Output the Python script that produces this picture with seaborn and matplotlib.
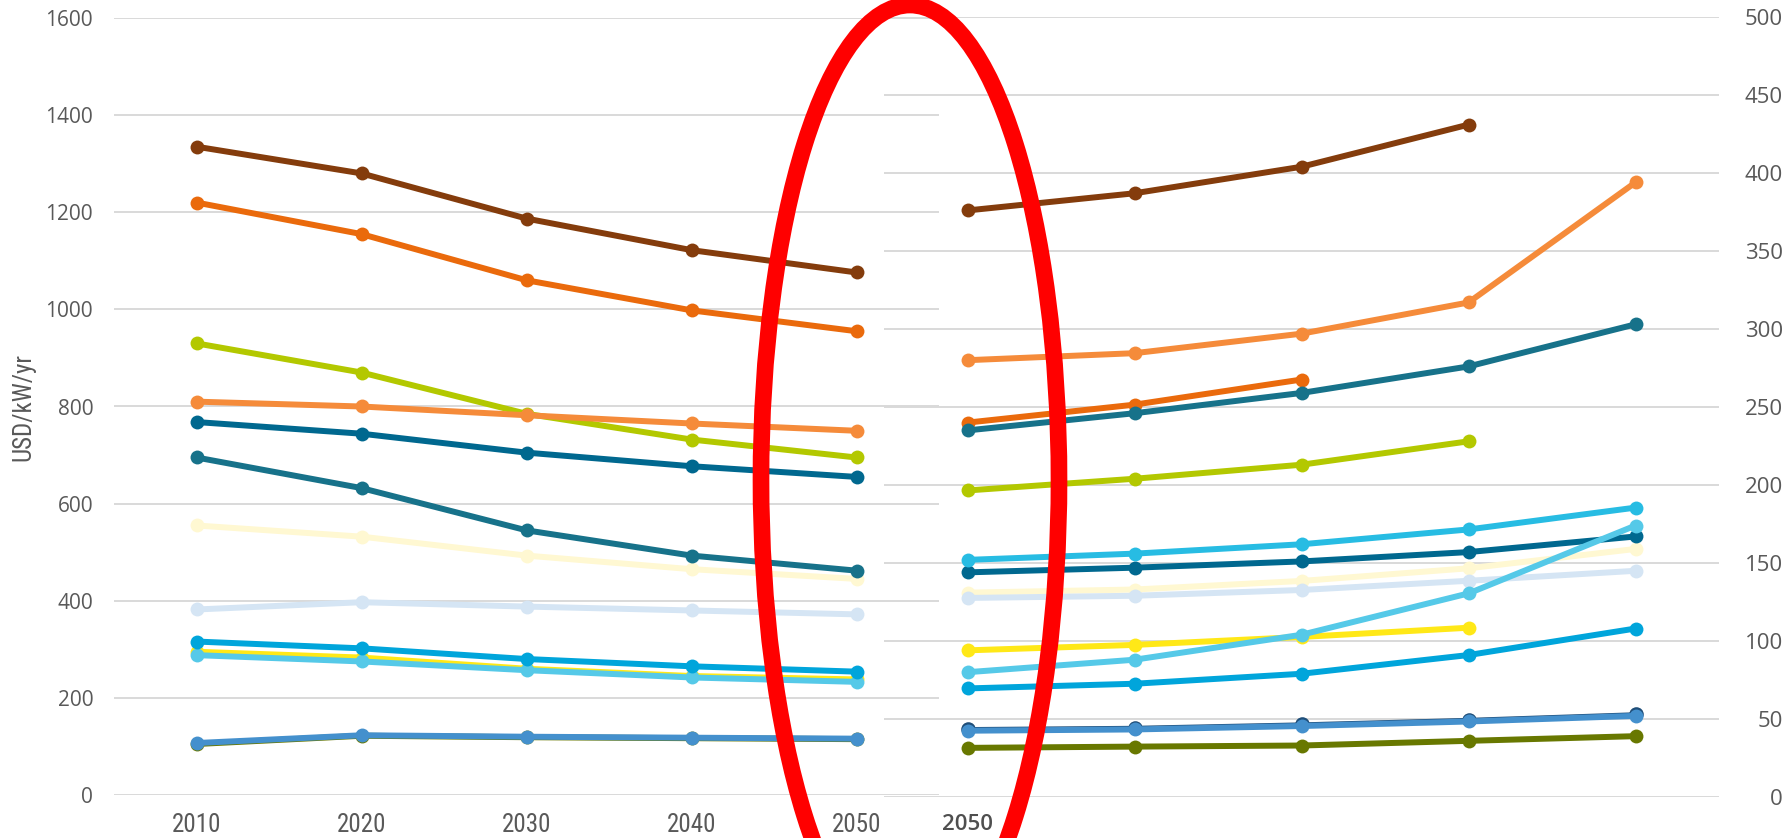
import matplotlib
matplotlib.use("Agg")
import matplotlib.pyplot as plt
from matplotlib import font_manager
from matplotlib.patches import Ellipse
import seaborn as sns
import pandas as pd

# ---- data -------------------------------------------------------------
years = [2010, 2020, 2030, 2040, 2050]
right_labels = ["2050", "", "", "", ""]

# left panel (USD/kW/yr)
left_medium_blue = [107, 123, 120, 118, 116]
left_olive = [105, 122, 119, 117, 115]
left_yellow = [295, 283, 260, 245, 238]
left_light_cyan = [288, 275, 257, 242, 233]
left_blue = [316, 302, 280, 265, 254]
left_pale_blue = [382, 397, 388, 380, 372]
left_pale_yellow = [555, 532, 493, 465, 445]
left_teal = [695, 632, 545, 493, 462]
left_teal_blue = [768, 744, 705, 677, 655]
left_yellow_green = [930, 870, 785, 732, 695]
left_light_orange = [810, 800, 782, 765, 750]
left_dark_orange = [1220, 1155, 1060, 998, 955]
left_brown = [1335, 1280, 1187, 1122, 1076]

# right panel
right_olive = [31.5, 32.3, 33, 36, 39]
right_navy = [43.5, 44.3, 46.5, 49.4, 53]
right_medium_blue = [42.5, 43.3, 45.5, 48.4, 52]
right_blue = [69.6, 72.6, 79, 91, 108]
right_yellow = [94, 97.5, 102.6, 108.5]
right_light_cyan = [80, 88, 104, 130.5, 174]
right_pale_yellow = [131, 133, 138.5, 146.6, 159]
right_pale_blue = [127.6, 129, 132.7, 138.6, 145]
right_teal_blue = [144, 147, 151, 157, 167]
right_cyan = [152, 156, 162, 171.5, 185.5]
right_yellow_green = [196.5, 204, 213, 228]
right_dark_orange = [240, 251.5, 267.6]
right_teal = [235, 246, 259, 276, 303]
right_light_orange = [280, 284.5, 297, 317, 394]
right_brown = [376, 387, 404, 431]

C = {
    "brown": "#843C0C", "dark_orange": "#EA6A0C", "light_orange": "#F58B3A",
    "yellow_green": "#B3C800", "teal_blue": "#00688F", "teal": "#17728A",
    "pale_yellow": "#FFF8D2", "pale_blue": "#D5E5F4", "blue": "#00A5DB",
    "cyan": "#27BCE3", "light_cyan": "#55C9E8", "yellow": "#FFE817",
    "medium_blue": "#4490CD", "navy": "#1F4E79", "olive": "#687800",
}

left_series = [
    ("olive", left_olive), ("medium_blue", left_medium_blue),
    ("yellow", left_yellow), ("light_cyan", left_light_cyan),
    ("blue", left_blue), ("pale_blue", left_pale_blue),
    ("pale_yellow", left_pale_yellow), ("teal", left_teal),
    ("teal_blue", left_teal_blue), ("yellow_green", left_yellow_green),
    ("light_orange", left_light_orange), ("dark_orange", left_dark_orange),
    ("brown", left_brown),
]
right_series = [
    ("olive", right_olive), ("navy", right_navy),
    ("medium_blue", right_medium_blue), ("blue", right_blue),
    ("yellow", right_yellow), ("pale_yellow", right_pale_yellow),
    ("pale_blue", right_pale_blue), ("teal_blue", right_teal_blue),
    ("light_cyan", right_light_cyan), ("cyan", right_cyan),
    ("yellow_green", right_yellow_green), ("dark_orange", right_dark_orange),
    ("teal", right_teal), ("light_orange", right_light_orange),
    ("brown", right_brown),
]

sns.set_theme(style="white")
plt.rcParams["font.family"] = ["Open Sans", "DejaVu Sans"]


def _find_condensed():
    """Look for an installed regular-weight condensed / narrow sans face."""
    best = None
    for fe in font_manager.fontManager.ttflist:
        tag = (fe.name + " " + fe.fname).lower().replace("-", "").replace("_", "")
        if not ("narrow" in tag or "condensed" in tag):
            continue
        if any(k in tag for k in ("bold", "italic", "oblique", "light", "thin",
                                  "black", "medium", "semi", "extra", "ultra",
                                  "serif", "mono")):
            continue
        if fe.weight not in (400, "normal", "regular", "book") or fe.style != "normal":
            continue
        rank = 0 if "liberation" in tag else 1 if "noto" in tag else \
            2 if "open" in tag else 3 if "roboto" in tag else 4
        if best is None or rank < best[0]:
            best = (rank, fe.fname)
    return best[1] if best else None


COND_PATH = _find_condensed()


def narrow_font(size):
    if COND_PATH:
        return font_manager.FontProperties(fname=COND_PATH, size=size)
    return font_manager.FontProperties(family="Open Sans", size=size - 3)


W, H = 1789, 838
fig = plt.figure(figsize=(W / 100, H / 100), dpi=100)
fig.patch.set_facecolor("white")


def px_axes(x0, y_top, x1, y_bot):
    return fig.add_axes([x0 / W, (H - y_bot) / H, (x1 - x0) / W, (y_bot - y_top) / H])


GRID = "#D9D9D9"
TICK = "#595959"


def draw_series(ax, series):
    for i, (name, vals) in enumerate(series):
        df = pd.DataFrame({"x": list(range(len(vals))), "y": vals})
        lw = 3.0 if name == "navy" else 4.3
        ms = 10.5 if name == "navy" else 10
        sns.lineplot(data=df, x="x", y="y", ax=ax, color=C[name], lw=lw,
                     marker="o", markersize=ms, markeredgewidth=0,
                     zorder=3 + i * 0.01, legend=False)


# ---- left panel --------------------------------------------------------
axL = px_axes(114, 18, 939, 795)
draw_series(axL, left_series)
axL.set_xlim(-0.5, 4.5)
axL.set_ylim(0, 1600)
axL.set_yticks(range(0, 1601, 200))
axL.set_xticks(range(len(years)))
axL.set_xticklabels([str(y) for y in years], fontproperties=narrow_font(18), color=TICK)
axL.tick_params(axis="y", labelsize=15, labelcolor=TICK, length=0, pad=15)
axL.tick_params(axis="x", length=0, pad=13)
axL.grid(axis="y", color=GRID, lw=1.4)
axL.set_axisbelow(True)
for s in axL.spines.values():
    s.set_visible(False)
axL.set_xlabel("")
axL.set_ylabel("USD/kW/yr", fontproperties=narrow_font(18), color=TICK, labelpad=7)

# ---- right panel -------------------------------------------------------
axR = px_axes(884, 17, 1719, 797)
axR.patch.set_alpha(0)
draw_series(axR, right_series)
axR.set_xlim(-0.5, 4.5)
axR.set_ylim(0, 500)
axR.set_yticks(range(0, 501, 50))
axR.yaxis.tick_right()
axR.set_xticks(range(len(right_labels)))
axR.set_xticklabels(right_labels, fontsize=16, color="#4F4F4F", fontweight="semibold")
axR.tick_params(axis="y", labelsize=16, labelcolor=TICK, length=0, pad=46)
for lab in axR.get_yticklabels():
    lab.set_horizontalalignment("right")
axR.tick_params(axis="x", length=0, pad=12.5)
axR.grid(axis="y", color=GRID, lw=1.4)
axR.set_axisbelow(True)
for s in axR.spines.values():
    s.set_visible(False)
axR.set_xlabel("")
axR.set_ylabel("")

# ---- red highlight ring ------------------------------------------------
ov = fig.add_axes([0, 0, 1, 1])
ov.set_xlim(0, W)
ov.set_ylim(H, 0)
ov.axis("off")
ov.patch.set_alpha(0)
ov.add_patch(Ellipse((910, 480), width=298, height=950, fill=False,
                     edgecolor="#FF0000", lw=12))

fig.savefig("out.png", dpi=100, facecolor="white")
